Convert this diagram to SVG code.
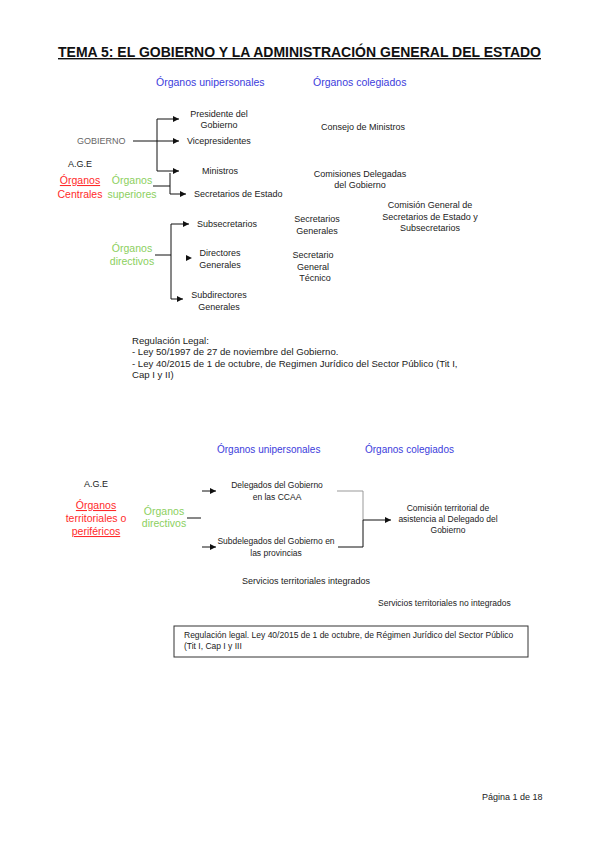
<svg xmlns="http://www.w3.org/2000/svg" width="599" height="848" viewBox="0 0 599 848">
<style>
text{font-family:"Liberation Sans",Arial,sans-serif;}
.t{font-size:9px;fill:#222;}
.s{font-size:8.5px;fill:#222;}
.r{font-size:9.6px;fill:#222;}
.g{font-size:9px;fill:#666;}
.m{text-anchor:middle;}
.blue{font-size:10.5px;fill:#3c3cdc;}
.blue2{font-size:10px;fill:#3c3cdc;}
.red{font-size:10.5px;fill:#ff2a2a;}
.grn{font-size:10.5px;fill:#8ccf5e;}
.u{text-decoration:underline;}
.ln{stroke:#111;stroke-width:1;fill:none;}
.arr{stroke:#111;stroke-width:1;fill:none;marker-end:url(#ah);}
</style>
<defs>
<marker id="ah" viewBox="0 0 10 10" refX="10" refY="5" markerWidth="6" markerHeight="6" markerUnits="userSpaceOnUse" orient="auto">
<path d="M0,0 L10,5 L0,10 z" fill="#111"/>
</marker>
</defs>
<rect width="599" height="848" fill="#fff"/>
<text id="title" x="58" y="57" font-size="14" font-weight="bold" fill="#111" text-decoration="underline" textLength="483" lengthAdjust="spacingAndGlyphs">TEMA 5: EL GOBIERNO Y LA ADMINISTRACIÓN GENERAL DEL ESTADO</text>

<g id="headers1">
<text class="blue" x="156" y="86">Órganos unipersonales</text>
<text class="blue" x="313" y="86">Órganos colegiados</text>
</g>

<g id="gobierno"><text class="g" x="77" y="144">GOBIERNO</text></g>
<g id="age1"><text class="t" x="68" y="167">A.G.E</text></g>
<g id="centrales"><text class="red m u" x="80" y="184">Órganos</text><text class="red m" x="80" y="198">Centrales</text></g>
<g id="superiores"><text class="grn m" x="132" y="184">Órganos</text><text class="grn m" x="132" y="198">superiores</text></g>
<g id="presidente"><text class="t m" x="219" y="117">Presidente del</text><text class="t m" x="219" y="128">Gobierno</text></g>
<g id="vicepresidentes"><text class="t" x="187" y="144">Vicepresidentes</text></g>
<g id="ministros"><text class="t" x="202" y="174">Ministros</text></g>
<g id="secretariosEstado"><text class="t" x="194" y="197">Secretarios de Estado</text></g>
<g id="consejo"><text class="t m" x="363" y="130">Consejo de Ministros</text></g>
<g id="comisiones"><text class="t m" x="360" y="177">Comisiones Delegadas</text><text class="t m" x="360" y="188">del Gobierno</text></g>
<g id="comisionGeneral"><text class="t m" x="430" y="208">Comisión General de</text><text class="t m" x="430" y="220">Secretarios de Estado y</text><text class="t m" x="430" y="231">Subsecretarios</text></g>
<g id="secretariosGenerales"><text class="t m" x="317" y="222">Secretarios</text><text class="t m" x="317" y="234">Generales</text></g>
<g id="secretarioTecnico"><text class="t m" x="313" y="258">Secretario</text><text class="t m" x="313" y="270">General</text><text class="t m" x="315" y="281">Técnico</text></g>
<g id="directivos1"><text class="grn m" x="132" y="252">Órganos</text><text class="grn m" x="132" y="265">directivos</text></g>
<g id="subsecretarios"><text class="t" x="197" y="227">Subsecretarios</text></g>
<g id="directores"><text class="t m" x="220" y="256">Directores</text><text class="t m" x="220" y="268">Generales</text></g>
<g id="subdirectores"><text class="t m" x="219" y="298">Subdirectores</text><text class="t m" x="219" y="310">Generales</text></g>

<g id="regulacion1">
<text class="r" x="132" y="344">Regulación Legal:</text>
<text class="r" x="132" y="355">- Ley 50/1997 de 27 de noviembre del Gobierno.</text>
<text class="r" x="132" y="367">- Ley 40/2015 de 1 de octubre, de Regimen Jurídico del Sector Público (Tit I,</text>
<text class="r" x="132" y="378">Cap I y II)</text>
</g>

<g id="headers2">
<text class="blue2" x="217" y="453">Órganos unipersonales</text>
<text class="blue2" x="365" y="453">Órganos colegiados</text>
</g>
<g id="age2"><text class="t m" x="96" y="487">A.G.E</text></g>
<g id="territoriales"><text class="red m u" x="96" y="509">Órganos</text><text class="red m" x="96" y="522">territoriales o</text><text class="red m u" x="96" y="535">periféricos</text></g>
<g id="directivos2"><text class="grn m" x="164" y="515">Órganos</text><text class="grn m" x="164" y="527">directivos</text></g>
<g id="delegados"><text class="s m" x="277" y="488">Delegados del Gobierno</text><text class="s m" x="277" y="500">en las CCAA</text></g>
<g id="subdelegados"><text class="s m" x="276" y="544">Subdelegados del Gobierno en</text><text class="s m" x="276" y="556">las provincias</text></g>
<g id="comisionTerritorial"><text class="s m" x="448" y="511">Comisión territorial de</text><text class="s m" x="448" y="522">asistencia al Delegado del</text><text class="s m" x="448" y="533">Gobierno</text></g>
<g id="integrados"><text class="t" x="242" y="584">Servicios territoriales integrados</text></g>
<g id="noIntegrados"><text class="s" x="378" y="606">Servicios territoriales no integrados</text></g>
<g id="regulacion2">
<rect x="174" y="626" width="354" height="31" fill="none" stroke="#333" stroke-width="1"/>
<text class="s" x="184" y="638">Regulación legal. Ley 40/2015 de 1 de octubre, de Régimen Jurídico del Sector Público</text>
<text class="s" x="184" y="649">(Tit I, Cap I y III</text>
</g>
<g id="footer"><text class="t" x="482" y="800">Página 1 de 18</text></g>

<g id="connectors">
<path class="ln" d="M133,141 H157 M157,119 V171"/>
<path class="arr" d="M157,119 H179"/>
<path class="arr" d="M157,141 H179"/>
<path class="arr" d="M157,171 H179"/>
<path class="ln" d="M153,186 H170 M170,173 V194"/>
<path class="arr" d="M170,194 H186"/>
<path class="ln" d="M155,255 H171 M171,224 V299"/>
<path class="arr" d="M171,224 H189"/>
<path class="arr" d="M171,299 H183"/>
<path d="M186,255 L192,258 L186,261 z" fill="#111"/>
<path class="ln" d="M187,518 H201"/>
<path class="arr" d="M202,491 H216"/>
<path class="arr" d="M202,547 H216"/>
<path d="M337,491 H363 V520" fill="none" stroke="#999" stroke-width="1"/>
<path class="ln" d="M338,547 H363 V520"/>
<path class="arr" d="M363,520 H391"/>
</g>
</svg>
